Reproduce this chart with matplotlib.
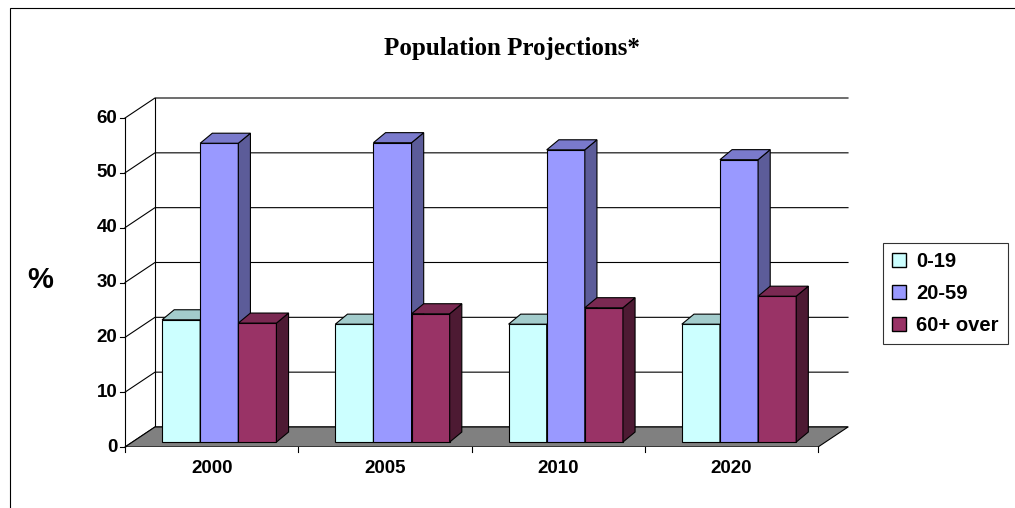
import matplotlib
matplotlib.use("Agg")
import matplotlib.pyplot as plt
from matplotlib.patches import Polygon, Patch, Rectangle

plt.rcParams['font.family'] = ['Liberation Sans', 'DejaVu Sans']

years = ["2000", "2005", "2010", "2020"]
series = ["0-19", "20-59", "60+ over"]
v0_19 = [22.3, 21.5, 21.5, 21.5]
v20_59 = [54.5, 54.6, 53.3, 51.5]
v60 = [21.7, 23.4, 24.5, 26.6]
yticks = [0, 10, 20, 30, 40, 50, 60]

front = ["#CCFFFF", "#9999FF", "#993366"]
side = ["#8FB3B3", "#5C5C99", "#4D1A33"]
top = ["#A3CCCC", "#7A7ACC", "#7A2952"]

W, H = 1015, 508
fig = plt.figure(figsize=(W/100, H/100), dpi=100)
DX, DY = 0.173, 3.65
ax = fig.add_axes([125/W, (H-447)/H, (848-125)/W, (447-98)/H])
ax.set_xlim(0, 4 + DX); ax.set_ylim(0, 60 + DY)
ax.axis("off")

ax.add_patch(Polygon([(0, 0), (4, 0), (4+DX, DY), (DX, DY)], closed=True,
                     facecolor="#808080", edgecolor="black", lw=0.8, zorder=1))
for v in yticks:
    ax.plot([0, DX, 4+DX], [v, v+DY, v+DY], color="black", lw=0.8, zorder=0.5, clip_on=False)
    ax.plot([-0.03, 0], [v, v], color="black", lw=0.8, clip_on=False)
    ax.text(-0.045, v, str(v), ha="right", va="center", fontsize=13.5, fontweight="bold")
ax.plot([0, 0], [0, 60], color="black", lw=0.8, clip_on=False)
ax.plot([DX, DX], [DY, 60+DY], color="black", lw=0.8, zorder=0.5, clip_on=False)
for k in range(5):
    ax.plot([k, k], [0, -1], color="black", lw=0.8, clip_on=False)
for k, y in enumerate(years):
    ax.text(k+0.5, -2.3, y, ha="center", va="top", fontsize=13.5, fontweight="bold")

bw, bx, by, bdx, bdy = 0.22, 0.04, 0.9, 0.07, 1.83
data = [v0_19, v20_59, v60]
for k in range(4):
    for i in range(3):
        x0 = k + 0.174 + i*bw + bx
        h = data[i][k]
        ax.bar(x0, h, width=bw, bottom=by, align="edge", color=front[i],
               edgecolor="black", lw=0.8, zorder=3+i)
        yt = by + h
        ax.add_patch(Polygon([(x0+bw, by), (x0+bw+bdx, by+bdy), (x0+bw+bdx, yt+bdy), (x0+bw, yt)],
                             facecolor=side[i], edgecolor="black", lw=0.8, zorder=3+i))
        ax.add_patch(Polygon([(x0, yt), (x0+bdx, yt+bdy), (x0+bw+bdx, yt+bdy), (x0+bw, yt)],
                             facecolor=top[i], edgecolor="black", lw=0.8, zorder=3+i))

fig.text(40/W, 1-280/H, "%", ha="center", va="center", fontsize=21, fontweight="bold")
fig.text(512/W, 1-48/H, "Population Projections*", ha="center", va="center",
         fontsize=18, fontweight="bold", family="Liberation Serif")
handles = [Patch(facecolor=front[i], edgecolor="black", label=series[i]) for i in range(3)]
leg = fig.legend(handles=handles, loc="upper left", bbox_to_anchor=(883/W, 1-243/H),
                 frameon=True, fancybox=False, edgecolor="black",
                 prop={"weight": "bold", "size": 14.5}, handlelength=0.7, handleheight=0.7,
                 borderaxespad=0, labelspacing=0.65, handletextpad=0.5, borderpad=0.45)
leg.get_frame().set_linewidth(0.8)
fig.add_artist(Rectangle((10/W, -0.01), 1.1, 1-8/H+0.01, transform=fig.transFigure,
                         fill=False, edgecolor="black", lw=0.8))
fig.savefig("out.png", dpi=100)
